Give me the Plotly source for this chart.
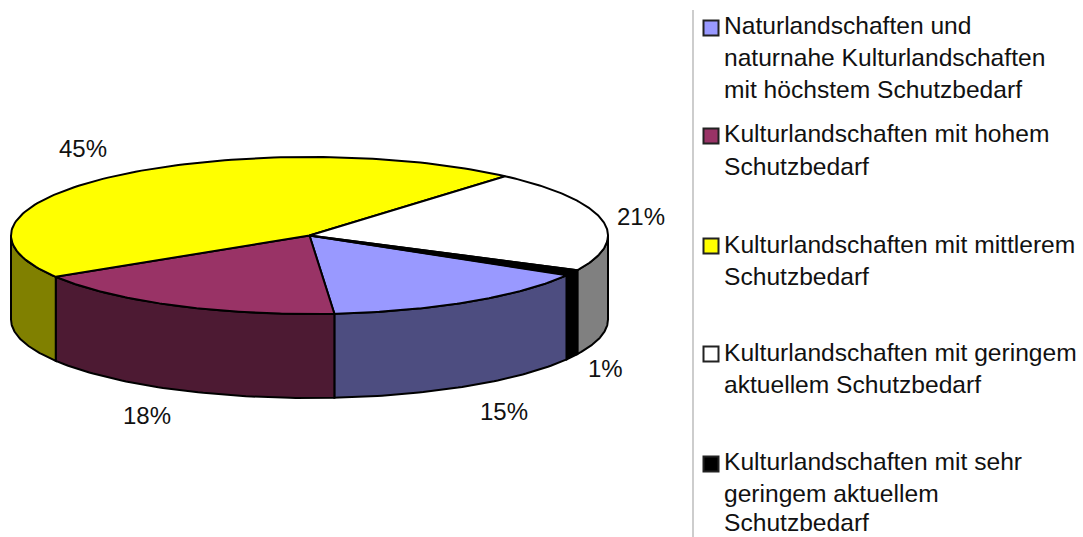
import numpy as np
import plotly.graph_objects as go

# Data
categories = ["Naturlandschaften und naturnahe Kulturlandschaften mit höchstem Schutzbedarf",
              "Kulturlandschaften mit hohem Schutzbedarf",
              "Kulturlandschaften mit mittlerem Schutzbedarf",
              "Kulturlandschaften mit geringem aktuellem Schutzbedarf",
              "Kulturlandschaften mit sehr geringem aktuellem Schutzbedarf"]
values = [15.2, 17.5, 45.2, 20.9, 1.2]
top_colors = ["#9999FF", "#993366", "#FFFF00", "#FFFFFF", "#000000"]
side_colors = ["#4D4D80", "#4D1A33", "#808000", "#808080", "#000000"]
pct_labels = ["15%", "18%", "45%", "21%", "1%"]
pct_pos = [(504, 411), (147, 415), (83, 148), (641, 216), (605, 368)]
legend_lines = [["Naturlandschaften und", "naturnahe Kulturlandschaften", "mit höchstem Schutzbedarf"],
                ["Kulturlandschaften mit hohem", "Schutzbedarf"],
                ["Kulturlandschaften mit mittlerem", "Schutzbedarf"],
                ["Kulturlandschaften mit geringem", "aktuellem Schutzbedarf"],
                ["Kulturlandschaften mit sehr", "geringem aktuellem", "Schutzbedarf"]]
legend_y = [[25, 57, 89], [133, 166], [244, 276], [352, 384], [461, 493, 522]]
marker_y = [28, 136, 246, 354, 464]

# Pie geometry
cx, cy, rx, ry, depth = 309.5, 235.5, 298.5, 78.5, 84
start = -30.5  # degrees, slices run clockwise


def ell(deg):
    t = np.radians(deg)
    return cx + rx * np.cos(t), cy - ry * np.sin(t)


fig = go.Figure()
LINE = dict(color="#000000", width=2)

edges = start - np.cumsum([0] + values) * 3.6
spans = [(edges[i + 1], edges[i]) for i in range(len(values))]

# Side walls: the parts of each slice on the front half of the rim
for (a, b), col in zip(spans, side_colors):
    for lo, hi in ((a, b), (a + 360, b + 360), (a - 360, b - 360)):
        lo2, hi2 = max(lo, -180), min(hi, 0)
        if hi2 <= lo2:
            continue
        ts = np.linspace(lo2, hi2, 60)
        x, y = ell(ts)
        fig.add_trace(go.Scatter(x=np.r_[x, x[::-1], x[0]], y=np.r_[y, (y + depth)[::-1], y[0]],
                                 mode="lines", fill="toself", fillcolor=col, line=LINE,
                                 hoverinfo="skip", showlegend=False))

# Top faces
for (a, b), col in zip(spans, top_colors):
    ts = np.linspace(a, b, 120)
    x, y = ell(ts)
    fig.add_trace(go.Scatter(x=np.r_[cx, x, cx], y=np.r_[cy, y, cy],
                             mode="lines", fill="toself", fillcolor=col, line=LINE,
                             hoverinfo="skip", showlegend=False))

# Percent labels
ann = []
for txt, (x, y) in zip(pct_labels, pct_pos):
    ann.append(dict(x=x, y=y, text=txt, showarrow=False, xanchor="center", yanchor="middle",
                    font=dict(family="Liberation Sans", size=24, color="#111111")))

# Legend
for lines, ys in zip(legend_lines, legend_y):
    for txt, y in zip(lines, ys):
        ann.append(dict(x=722, y=y, text=txt, showarrow=False, xanchor="left", yanchor="middle",
                        font=dict(family="Liberation Sans", size=24.6, color="#111111")))
fig.add_trace(go.Scatter(x=[711] * len(marker_y), y=marker_y, mode="markers",
                         marker=dict(symbol="square", size=15, color=top_colors,
                                     line=dict(color="#222222", width=2)),
                         hoverinfo="skip", showlegend=False))
fig.add_shape(type="line", x0=693, x1=693, y0=10, y1=537, line=dict(color="#BDBDBD", width=1.5))

fig.update_layout(width=1083, height=537, margin=dict(l=0, r=0, t=0, b=0),
                  paper_bgcolor="white", plot_bgcolor="white", annotations=ann,
                  xaxis=dict(range=[0, 1083], visible=False, fixedrange=True),
                  yaxis=dict(range=[537, 0], visible=False, fixedrange=True))
fig.write_html("out.html", config={"displayModeBar": False},
               post_script="document.body.style.margin='0';document.body.style.overflow='hidden';")
